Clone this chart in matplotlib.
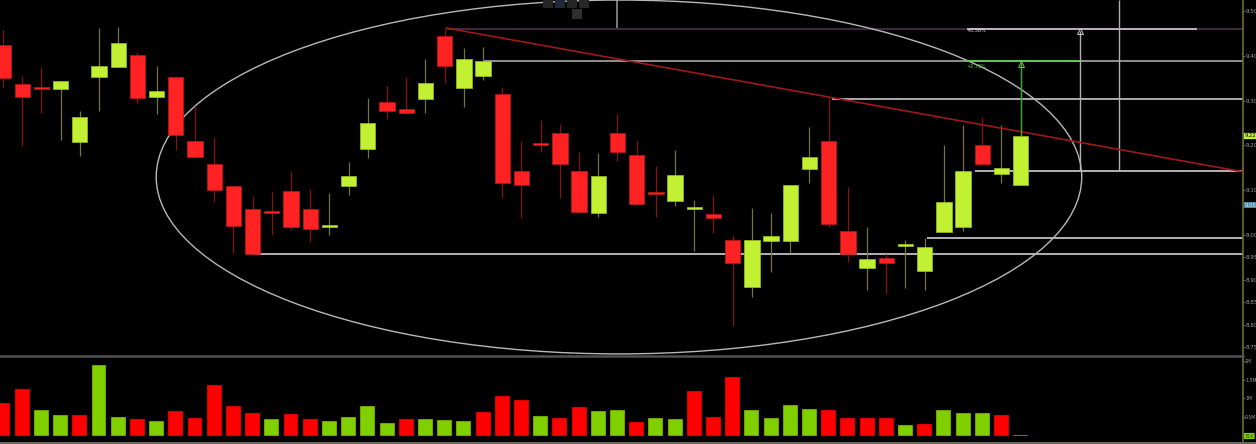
import numpy as np
import matplotlib
matplotlib.use("Agg")
import matplotlib.pyplot as plt
from matplotlib.patches import Ellipse, Rectangle
from matplotlib.transforms import blended_transform_factory

# daily candles (price)
opens = [9.424, 9.337, 9.330, 9.326, 9.208, 9.353, 9.375, 9.402, 9.308, 9.353,
         9.210, 9.158, 9.109, 9.058, 9.054, 9.098, 9.058, 9.017, 9.109, 9.192,
         9.297, 9.281, 9.304, 9.444, 9.328, 9.355, 9.315, 9.143, 9.205, 9.228,
         9.143, 9.049, 9.228, 9.179, 9.096, 9.076, 9.058, 9.047, 8.989, 8.884,
         8.987, 8.987, 9.147, 9.210, 9.009, 8.926, 8.949, 8.975, 8.920, 9.007,
         9.018, 9.201, 9.136, 9.112]
highs = [9.458, 9.355, 9.375, 9.344, 9.277, 9.462, 9.464, 9.408, 9.377, 9.353,
         9.288, 9.219, 9.109, 9.087, 9.096, 9.143, 9.103, 9.094, 9.163, 9.306,
         9.333, 9.353, 9.393, 9.462, 9.417, 9.420, 9.330, 9.210, 9.257, 9.248,
         9.185, 9.183, 9.270, 9.210, 9.154, 9.190, 9.078, 9.089, 9.000, 9.060,
         9.049, 9.112, 9.241, 9.306, 9.107, 9.018, 8.958, 8.989, 8.993, 9.201,
         9.246, 9.263, 9.246, 9.384]
lows = [9.328, 9.199, 9.272, 9.212, 9.176, 9.277, 9.375, 9.295, 9.270, 9.190,
        9.174, 9.074, 8.960, 8.958, 9.000, 9.011, 8.984, 9.000, 9.089, 9.172,
        9.259, 9.272, 9.272, 9.339, 9.286, 9.346, 9.083, 9.038, 9.185, 9.083,
        9.049, 9.040, 9.165, 9.067, 9.040, 9.065, 8.964, 9.004, 8.797, 8.862,
        8.917, 8.960, 9.116, 9.018, 8.940, 8.877, 8.868, 8.882, 8.877, 9.007,
        9.009, 9.158, 9.116, 9.112]
closes = [9.350, 9.308, 9.326, 9.344, 9.263, 9.377, 9.429, 9.306, 9.321, 9.223,
          9.174, 9.100, 9.020, 8.958, 9.049, 9.018, 9.013, 9.018, 9.132, 9.250,
          9.277, 9.272, 9.339, 9.377, 9.393, 9.388, 9.116, 9.112, 9.201, 9.158,
          9.051, 9.132, 9.185, 9.069, 9.092, 9.134, 9.063, 9.038, 8.938, 8.989,
          8.998, 9.112, 9.174, 9.025, 8.958, 8.946, 8.938, 8.980, 8.973, 9.074,
          9.143, 9.158, 9.150, 9.221]

# volume in millions, and whether the bar is drawn green
volumes = [0.88, 1.25, 0.69, 0.56, 0.56, 1.89, 0.51, 0.45, 0.40, 0.67,
           0.48, 1.36, 0.80, 0.61, 0.45, 0.59, 0.45, 0.40, 0.51, 0.80,
           0.35, 0.45, 0.45, 0.43, 0.40, 0.64, 1.07, 0.96, 0.53, 0.48,
           0.77, 0.67, 0.69, 0.37, 0.48, 0.45, 1.20, 0.51, 1.57, 0.69,
           0.48, 0.83, 0.72, 0.69, 0.48, 0.48, 0.48, 0.29, 0.32, 0.69,
           0.61, 0.61, 0.56, 0.03]
vol_up = [0, 0, 1, 1, 0, 1, 1, 0, 1, 0,
          0, 0, 0, 0, 1, 0, 0, 1, 1, 1,
          1, 0, 1, 1, 1, 0, 0, 0, 1, 0,
          0, 1, 1, 0, 1, 1, 0, 0, 0, 1,
          1, 1, 1, 0, 0, 0, 0, 1, 0, 1,
          1, 1, 0, 1]

price_ticks = [9.50, 9.40, 9.30, 9.20, 9.10, 9.00, 8.95, 8.90, 8.85, 8.80, 8.75]
price_labels = ["9.50", "9.40", "9.30", "9.20", "9.10", "9.00", "8.95", "8.90", "8.85", "8.80", "8.75"]
vol_ticks = [2.0, 1.5, 1.0, 0.5]
vol_labels = ["2M", "1.5M", "1M", "0.5M"]

RED = "#ff2222"
GREEN = "#c2f032"
VRED = "#ff0000"
VGREEN = "#80d000"
AXC = "#6e6e3c"
NARROW = ["Liberation Sans Narrow", "DejaVu Sans"]

fig = plt.figure(figsize=(12.56, 4.44), dpi=100, facecolor="black")
ax = fig.add_axes([0, 0.2005, 0.98965, 0.7995], facecolor="black")
axv = fig.add_axes([0, 0.0, 0.98965, 0.196], facecolor="black")

idx = np.arange(len(opens))
o = np.array(opens)
c = np.array(closes)
up = c >= o
body_lo = np.minimum(o, c)
body_h = np.maximum(np.abs(c - o), 0.005)

ax.vlines(idx[up], np.array(lows)[up], np.array(highs)[up], color="#74743f", lw=0.9, zorder=2)
ax.vlines(idx[~up], np.array(lows)[~up], np.array(highs)[~up], color="#841212", lw=0.9, zorder=2)
ax.bar(idx[up], body_h[up], bottom=body_lo[up], width=0.8, color=GREEN, edgecolor="#9cc020", lw=0.5, zorder=3)
ax.bar(idx[~up], body_h[~up], bottom=body_lo[~up], width=0.8, color=RED, edgecolor="#c01818", lw=0.5, zorder=3)

xr = 64.58
ax.set_xlim(-0.156, xr)
ax.set_ylim(8.7321, 9.5246)

# drawn levels
ax.hlines(8.958, 13.0, xr, color="#d0d0d0", lw=1.2, zorder=1)
ax.hlines(8.993, 48.1, xr, color="#d0d0d0", lw=1.2, zorder=1)
ax.hlines(9.143, 50.6, xr, color="#d0d0d0", lw=1.2, zorder=1)
ax.hlines(9.304, 43.2, xr, color="#c8c8c8", lw=1.2, zorder=1)
ax.hlines(9.388, 25.05, xr, color="#a8a8a8", lw=1.2, zorder=1)
ax.hlines(9.388, 50.2, 56.1, color="#5ad24a", lw=1.2, zorder=4)
ax.hlines(9.460, 23.1, xr, color="#4e2d4e", lw=1.2, zorder=1)
ax.hlines(9.460, 50.2, 62.2, color="#d6c4d6", lw=1.2, zorder=1)
ax.plot([23.1, xr], [9.462, 9.141], color="#a01818", lw=1.2, zorder=4)
ax.vlines(56.1, 9.143, 9.456, color="#b0b0b0", lw=1, zorder=1)
ax.vlines(58.1, 9.143, 9.5246, color="#b0b0b0", lw=1, zorder=1)
ax.vlines(32.0, 9.463, 9.5246, color="#909090", lw=1.2, zorder=1)
ax.vlines(53, 9.221, 9.384, color="#3ea03a", lw=1, zorder=4)
ax.plot([56.1], [9.455], marker="^", ms=4, mfc="none", mec="#c8c8c8", mew=0.7, zorder=5)
ax.plot([53], [9.382], marker="^", ms=4, mfc="none", mec="#5ad24a", mew=0.7, zorder=5)
ax.text(50.2, 9.452, "+3.56%", color="#e0e0e0", fontsize=3.5, va="bottom", zorder=5)
ax.text(50.2, 9.382, "+2.73%", color="#5ad24a", fontsize=3.5, va="top", zorder=5)

ax.add_patch(Ellipse((32.08, 9.1295), 48.2, 0.790, fill=False, ec="#b8b8b8", lw=1, zorder=1))

# axes styling
for a in (ax, axv):
    for s in ("left", "top", "bottom"):
        a.spines[s].set_visible(False)
    a.spines["right"].set_color(AXC)
    a.spines["right"].set_linewidth(1.2)
    a.yaxis.tick_right()
    a.tick_params(axis="y", colors=AXC, labelcolor="#a0a0a0", length=1.5, width=0.8,
                  labelsize=4, pad=0.5)
    a.set_xticks([])

ax.set_yticks(price_ticks)
ax.set_yticklabels(price_labels, family=NARROW)

tr = blended_transform_factory(ax.transAxes, ax.transData)
ax.text(1.0012, 9.221, "9.22", transform=tr, fontsize=3.8, color="black", va="center", ha="left",
        family=NARROW, bbox=dict(boxstyle="round,pad=0.12", fc="#c2f032", ec="none"), zorder=6)
ax.text(1.0012, 9.066, "9.05", transform=tr, fontsize=3.8, color="#e0f4ff", va="center", ha="left",
        family=NARROW, bbox=dict(boxstyle="square,pad=0.1", fc="#4a8aa8", ec="none"), zorder=6)

# volume
vcol = [VGREEN if u else VRED for u in vol_up]
axv.bar(idx, volumes, width=0.78, color=vcol, edgecolor="#400000", lw=0.3)
axv.set_xlim(-0.156, xr)
axv.set_ylim(-0.213, 2.107)
axv.set_yticks(vol_ticks)
axv.set_yticklabels(vol_labels, family=NARROW)
axv.tick_params(axis="y", labelsize=3.3, pad=0.3, length=1.2)
trv = blended_transform_factory(axv.transAxes, axv.transData)
axv.text(1.0012, 0.0, "31K", transform=trv, fontsize=3.6, color="#205000", va="center", ha="left",
         family=NARROW, bbox=dict(boxstyle="round,pad=0.12", fc="#80d000", ec="none"), zorder=6)

# panel separators
fig.add_artist(plt.Line2D([0, 0.98965], [0.198, 0.198], color="#505050", lw=1.8))
fig.add_artist(plt.Line2D([0, 1], [0.003, 0.003], color="#6a6a5a", lw=1.5))

# little toolbar at the top
for xp in (543, 555, 567, 579):
    fig.add_artist(Rectangle((xp / 1256, 1 - 8 / 444), 10 / 1256, 8 / 444,
                             fc="#262626" if xp != 555 else "#1c2a3a", ec="none"))
fig.add_artist(Rectangle((572 / 1256, 1 - 19 / 444), 10 / 1256, 10 / 444, fc="#2e2e2e", ec="none"))

fig.savefig("out.png", dpi=100, facecolor="black")
